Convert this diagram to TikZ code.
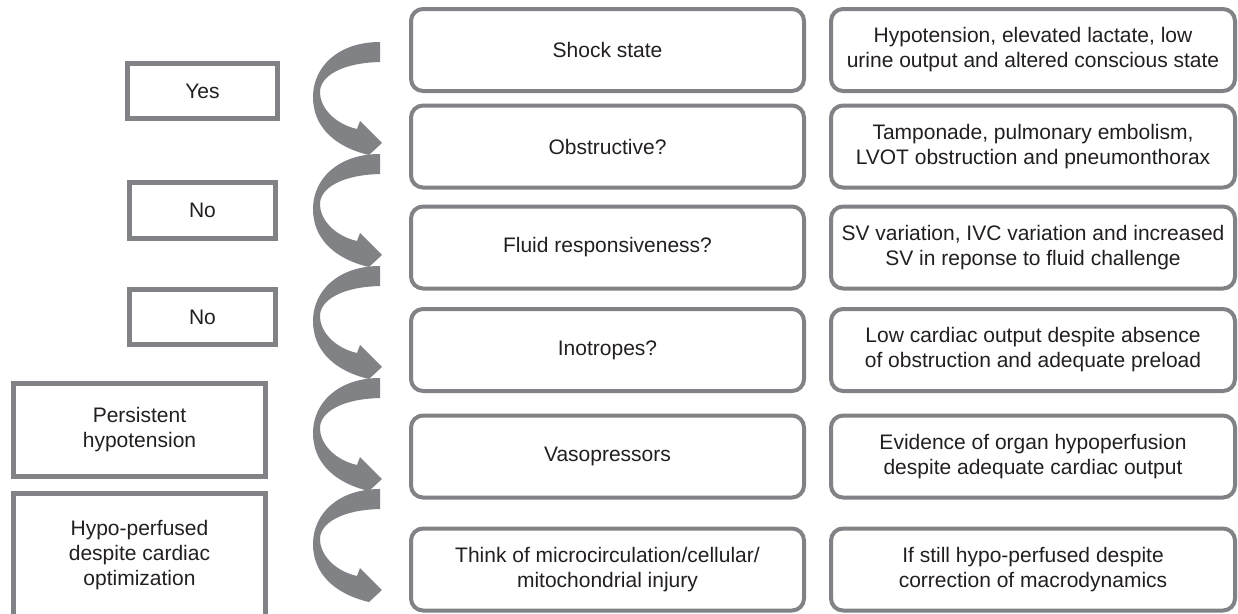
\documentclass[tikz,border=0pt]{standalone}
\usepackage{fontspec}
\setmainfont{Liberation Sans}
\definecolor{bgray}{RGB}{128,130,133}
\definecolor{txt}{RGB}{35,31,32}
\tikzset{
  mbox/.style={draw=bgray, line width=4pt, rounded corners=12pt, minimum width=393pt,
    minimum height=82pt, align=center, font=\fontsize{21}{25}\selectfont, text=txt, inner sep=0pt},
  rbox/.style={mbox, minimum width=404pt},
  lbox/.style={draw=bgray, line width=5pt, align=center, font=\fontsize{21}{25}\selectfont,
    text=txt, inner sep=0pt},
  curvarrow/.style={fill=bgray, draw=none}
}
\begin{document}
\begin{tikzpicture}[x=1pt,y=-1pt]
\clip (0,0) rectangle (1238,613);
\fill[white] (0,0) rectangle (1238,613);

% middle column
\node[mbox] (m1) at (607.5,50)    {Shock state};
\node[mbox] (m2) at (607.5,146.5) {Obstructive?};
\node[mbox] (m3) at (607.5,247.5) {Fluid responsiveness?};
\node[mbox] (m4) at (607.5,350)   {Inotropes?};
\node[mbox] (m5) at (607.5,456.5) {Vasopressors};
\node[mbox] (m6) at (607.5,569.5) {Think of microcirculation/cellular/\\mitochondrial injury};

% right column
\node[rbox] (r1) at (1033,50)    {Hypotension, elevated lactate, low\\urine output and altered conscious state};
\node[rbox] (r2) at (1033,146.5) {Tamponade, pulmonary embolism,\\LVOT obstruction and pneumonthorax};
\node[rbox] (r3) at (1033,247.5) {SV variation, IVC variation and increased\\SV in reponse to fluid challenge};
\node[rbox] (r4) at (1033,350)   {Low cardiac output despite absence\\of obstruction and adequate preload};
\node[rbox] (r5) at (1033,456.5) {Evidence of organ hypoperfusion\\despite adequate cardiac output};
\node[rbox] (r6) at (1033,569.5) {If still hypo-perfused despite\\correction of macrodynamics};

% left column
\node[lbox, minimum width=150pt, minimum height=55pt] (l1) at (202.5,91)    {Yes};
\node[lbox, minimum width=146pt, minimum height=56pt] (l2) at (202.5,210.5) {No};
\node[lbox, minimum width=146pt, minimum height=55pt] (l3) at (202.5,317)   {No};
\node[lbox, minimum width=252pt, minimum height=93pt] (l4) at (139.5,430)   {Persistent\\hypotension};
\node[lbox, minimum width=252pt, minimum height=122.5pt] (l5) at (139.5,554.75) {Hypo-perfused\\despite cardiac\\optimization};

% curved arrows
\foreach \t in {42,154,266,378,489}{
  \fill[curvarrow] (380,\t) .. controls (338,\t) and (313,{\t+25}) .. (313,{\t+55})
    .. controls (313,{\t+85}) and (335,{\t+105}) .. (369,{\t+113})
    -- (382,{\t+101}) -- (360,{\t+79}) -- (357,{\t+87})
    .. controls (335,{\t+82}) and (320,{\t+66}) .. (320,{\t+50})
    .. controls (320,{\t+35}) and (340,{\t+21}) .. (380,{\t+20}) -- cycle;
}
\end{tikzpicture}
\end{document}
